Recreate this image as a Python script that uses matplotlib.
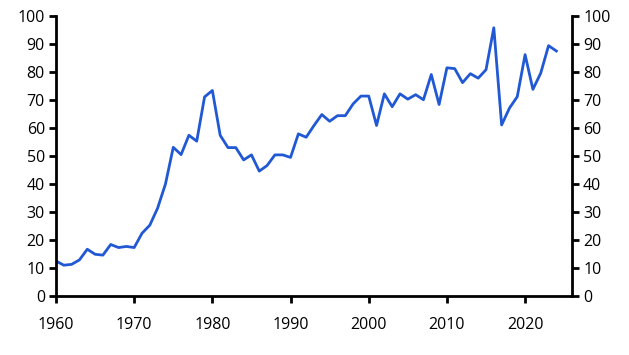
import matplotlib
matplotlib.use("Agg")
import matplotlib.pyplot as plt
import numpy as np

years = np.arange(1960, 2025)
values = [12.5, 11.0, 11.3, 12.9, 16.7, 14.9, 14.6, 18.4, 17.3, 17.7,
          17.3, 22.4, 25.3, 31.4, 40.0, 53.1, 50.5, 57.4, 55.3, 71.1,
          73.4, 57.4, 53.0, 53.0, 48.6, 50.4, 44.6, 46.6, 50.4, 50.4,
          49.5, 57.9, 56.7, 60.9, 64.8, 62.4, 64.4, 64.4, 68.6, 71.4,
          71.4, 60.9, 72.2, 67.6, 72.2, 70.3, 71.9, 70.1, 79.1, 68.4,
          81.5, 81.2, 76.2, 79.4, 77.8, 80.8, 95.8, 61.1, 67.1, 71.2,
          86.2, 73.8, 79.6, 89.4, 87.5]
xticks = [1960, 1970, 1980, 1990, 2000, 2010, 2020]
yticks = list(range(0, 101, 10))

plt.rcParams['font.family'] = ['Open Sans', 'DejaVu Sans']

fig = plt.figure(figsize=(6.29, 3.55), dpi=100)
ax = fig.add_axes([56/629, 1 - 296/355, (572 - 56)/629, (296 - 16)/355])

ax.plot(years, values, color='#2158d4', linewidth=2.0, solid_joinstyle='round')

ax.set_xlim(1960, 2026)
ax.set_ylim(0, 100)
ax.set_xticks(xticks)
ax.set_yticks(yticks)

for s in ['left', 'right', 'bottom']:
    ax.spines[s].set_linewidth(2)
    ax.spines[s].set_color('black')
ax.spines['top'].set_visible(False)

ax.tick_params(axis='both', direction='out', length=5, width=2, labelsize=11.5,
               colors='black')
ax.tick_params(axis='y', right=True, labelright=True, pad=3)
ax.tick_params(axis='x', pad=10)

fig.savefig('out.png', dpi=100)
